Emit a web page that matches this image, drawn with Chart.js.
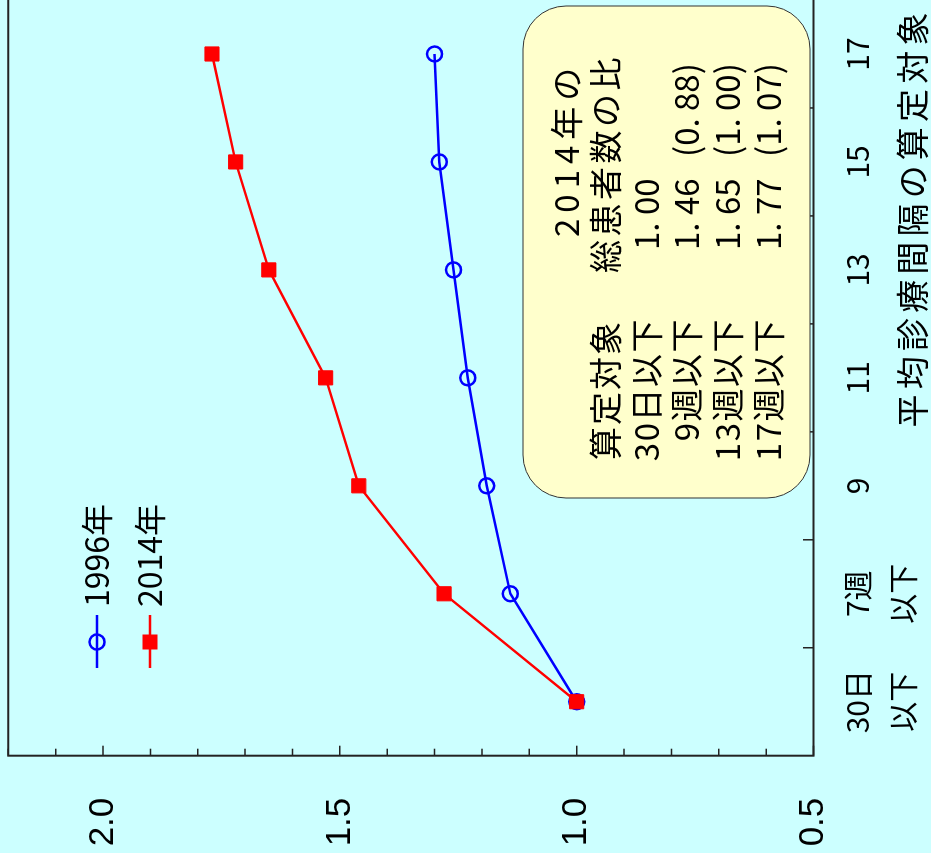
<!DOCTYPE html>
<html>
<head>
<meta charset="utf-8">
<script src="https://cdn.jsdelivr.net/npm/chart.js@4.4.1/dist/chart.umd.min.js"></script>
<style>
  html, body { margin: 0; padding: 0; background: #ccffff; overflow: hidden; }
  /* the chart is drawn upright and then turned a quarter turn to the left */
  #wrap { position: absolute; left: 0; top: 0; width: 853px; height: 931px;
          transform-origin: 0 0; transform: translate(0, 853px) rotate(-90deg); }
</style>
</head>
<body>
<div id="wrap"><canvas id="ratioChart" width="853" height="931"></canvas></div>
<script>
// 算定対象 categories and ratios (30日以下 = 1.00)
const categories = [['30日', '以下'], ['7週', '以下'], '9', '11', '13', '15', '17'];
const ratio1996 = [1.00, 1.14, 1.19, 1.23, 1.26, 1.29, 1.30];
const ratio2014 = [1.00, 1.28, 1.46, 1.53, 1.65, 1.72, 1.77];
const seriesNames = ['1996年', '2014年'];
const yMin = 0.5, yMax = 2.2, yStep = 0.1;
const axisTitle = '平均診療間隔の算定対象';

// note box contents
const boxHeader = ['2014年の', '総患者数の比'];
const boxColTitle = '算定対象';
const boxTargets = ['30日以下', '9週以下', '13週以下', '17週以下'];
const boxRatios = ['1. 00', '1. 46', '1. 65', '1. 77'];
const boxVs1996 = ['', '(0. 88)', '(1. 00)', '(1. 07)'];

const CJK = '"Noto Sans CJK JP", "Noto Sans", sans-serif';

function isMajor(v) {
    return Math.abs(v * 2 - Math.round(v * 2)) < 1e-6;
}

// spread characters evenly between x0 and x1
function spreadText(ctx, str, x0, x1, y) {
    const chars = Array.from(str);
    const step = (x1 - x0) / chars.length;
    ctx.textAlign = 'center';
    chars.forEach((c, i) => ctx.fillText(c, x0 + step * (i + 0.5), y));
}

function spacedText(ctx, str, x, y, spacing, align) {
    ctx.letterSpacing = spacing + 'px';
    ctx.textAlign = align;
    ctx.fillText(str, x, y);
    ctx.letterSpacing = '0px';
}

const decor = {
    id: 'decor',
    afterDraw(chart) {
        const ctx = chart.ctx;
        const area = chart.chartArea;
        const xs = chart.scales.x, ys = chart.scales.y;
        ctx.save();

        // frame (top, left, bottom)
        ctx.strokeStyle = '#222';
        ctx.lineWidth = 2;
        ctx.beginPath();
        ctx.moveTo(area.right + 2, area.top);
        ctx.lineTo(area.left, area.top);
        ctx.lineTo(area.left, area.bottom);
        ctx.lineTo(area.right + 2, area.bottom);
        ctx.stroke();

        // inward ticks on the value axis
        ctx.lineWidth = 1.5;
        ctx.beginPath();
        ys.ticks.forEach((t, i) => {
            const py = ys.getPixelForTick(i);
            const len = isMajor(t.value) ? 10 : 7;
            ctx.moveTo(area.left, py);
            ctx.lineTo(area.left + len, py);
        });
        // inward ticks between categories
        for (let i = 1; i < categories.length; i++) {
            const px = (xs.getPixelForValue(i - 1) + xs.getPixelForValue(i)) / 2;
            ctx.moveTo(px, area.bottom);
            ctx.lineTo(px, area.bottom - 10.5);
        }
        ctx.stroke();

        // note box
        const bx0 = 355, bx1 = 847, by0 = 523, by1 = 810, r = 43;
        ctx.beginPath();
        ctx.moveTo(bx0 + r, by0);
        ctx.lineTo(bx1 - r, by0);
        ctx.arcTo(bx1, by0, bx1, by0 + r, r);
        ctx.lineTo(bx1, by1 - r);
        ctx.arcTo(bx1, by1, bx1 - r, by1, r);
        ctx.lineTo(bx0 + r, by1);
        ctx.arcTo(bx0, by1, bx0, by1 - r, r);
        ctx.lineTo(bx0, by0 + r);
        ctx.arcTo(bx0, by0, bx0 + r, by0, r);
        ctx.closePath();
        ctx.fillStyle = '#ffffcc';
        ctx.fill();
        ctx.strokeStyle = '#333';
        ctx.lineWidth = 1;
        ctx.stroke();

        ctx.fillStyle = '#000';
        ctx.textBaseline = 'middle';
        ctx.font = '33px ' + CJK;
        spacedText(ctx, boxHeader[0], 616, 566, 6, 'left');
        spacedText(ctx, boxHeader[1], 580, 605, 3.5, 'left');
        spacedText(ctx, boxColTitle, 393, 605, 2, 'left');
        const rowY = [646, 686, 727, 768];
        boxTargets.forEach((t, i) => {
            spacedText(ctx, t, 535, rowY[i], 1.5, 'right');
            spacedText(ctx, boxRatios[i], 603, rowY[i], 0, 'left');
            spacedText(ctx, boxVs1996[i], 696, rowY[i], 0, 'left');
        });

        // legend
        const legY = [97, 150];
        chart.data.datasets.forEach((ds, i) => {
            const ly = legY[i];
            ctx.strokeStyle = ds.borderColor;
            ctx.lineWidth = 2.5;
            ctx.beginPath();
            ctx.moveTo(185, ly);
            ctx.lineTo(238, ly);
            ctx.stroke();
            if (ds.pointStyle === 'circle') {
                ctx.lineWidth = 2.5;
                ctx.beginPath();
                ctx.arc(211, ly, 7.5, 0, Math.PI * 2);
                ctx.stroke();
            } else {
                ctx.fillStyle = ds.pointBackgroundColor;
                ctx.fillRect(211 - 7.5, ly - 7.5, 15, 15);
            }
            ctx.fillStyle = '#000';
            ctx.font = '32px ' + CJK;
            ctx.textAlign = 'left';
            ctx.fillText(ds.label, 246, ly);
        });

        // axis title, bottom right
        ctx.font = '33px ' + CJK;
        spreadText(ctx, axisTitle, 423, 843, 912);
        ctx.restore();
    }
};

new Chart(document.getElementById('ratioChart'), {
    type: 'line',
    data: {
        labels: categories,
        datasets: [{
            label: seriesNames[0],
            data: ratio1996,
            borderColor: '#0000ff',
            borderWidth: 2.5,
            pointStyle: 'circle',
            pointRadius: 7.5,
            pointBorderWidth: 2.5,
            pointBackgroundColor: 'rgba(0,0,0,0)',
            pointBorderColor: '#0000ff',
            order: 1
        }, {
            label: seriesNames[1],
            data: ratio2014,
            borderColor: '#ff0000',
            borderWidth: 2.5,
            pointStyle: 'rect',
            pointRadius: 10,
            pointBorderWidth: 1,
            pointBackgroundColor: '#ff0000',
            pointBorderColor: '#ff0000',
            order: 0
        }]
    },
    options: {
        responsive: false,
        animation: false,
        events: [],
        layout: { autoPadding: false, padding: { top: 8.3, right: 0, bottom: 0, left: 0 } },
        plugins: {
            legend: { display: false },
            tooltip: { enabled: false }
        },
        scales: {
            x: {
                offset: true,
                grid: { display: false, drawTicks: false },
                border: { display: false },
                ticks: {
                    color: '#000',
                    padding: 22,
                    autoSkip: false,
                    maxRotation: 0,
                    font: { family: CJK, size: 30, lineHeight: 1.5 }
                },
                afterFit(s) { s.height = 117.5; s.paddingLeft = 0; s.paddingRight = 0; }
            },
            y: {
                min: yMin,
                max: yMax,
                grid: { display: false, drawTicks: false },
                border: { display: false },
                ticks: {
                    stepSize: yStep,
                    autoSkip: false,
                    color: '#000',
                    padding: 42,
                    font: { family: '"Liberation Sans Narrow", "Liberation Sans", Arial, sans-serif', size: 35 },
                    callback: v => (isMajor(v) ? v.toFixed(1) : '')
                },
                afterFit(s) { s.width = 97.3; s.paddingTop = 0; s.paddingBottom = 0; }
            }
        }
    },
    plugins: [decor]
});
</script>
</body>
</html>
